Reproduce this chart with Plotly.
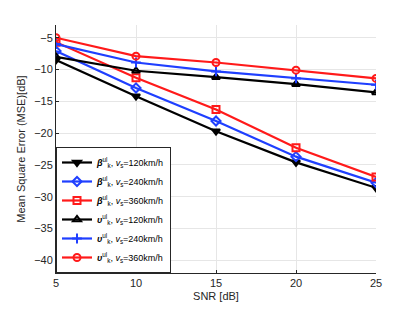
import plotly.graph_objects as go

snr = [5, 10, 15, 20, 25]
beta_120 = [-8.5, -14.2, -19.7, -24.6, -28.6]
beta_240 = [-7.1, -12.9, -18.1, -23.7, -27.8]
beta_360 = [-5.7, -11.3, -16.3, -22.3, -26.9]
ups_120 = [-8.0, -10.2, -11.2, -12.3, -13.6]
ups_240 = [-6.0, -8.9, -10.3, -11.4, -12.4]
ups_360 = [-5.0, -7.9, -8.9, -10.1, -11.4]

BLACK = "#000000"
BLUE = "#1f3fff"
RED = "#ff1a1a"

series = [
    (beta_120, "<b><i>β</i></b><sup>ul</sup><sub>k</sub>, <i>v</i><sub>s</sub>=120km/h", BLACK, "triangle-down"),
    (beta_240, "<b><i>β</i></b><sup>ul</sup><sub>k</sub>, <i>v</i><sub>s</sub>=240km/h", BLUE, "diamond-open"),
    (beta_360, "<b><i>β</i></b><sup>ul</sup><sub>k</sub>, <i>v</i><sub>s</sub>=360km/h", RED, "square-open"),
    (ups_120, "<b><i>υ</i></b><sup>ul</sup><sub>k</sub>, <i>v</i><sub>s</sub>=120km/h", BLACK, "triangle-up-open"),
    (ups_240, "<b><i>υ</i></b><sup>ul</sup><sub>k</sub>, <i>v</i><sub>s</sub>=240km/h", BLUE, "cross-thin-open"),
    (ups_360, "<b><i>υ</i></b><sup>ul</sup><sub>k</sub>, <i>v</i><sub>s</sub>=360km/h", RED, "circle-open"),
]

fig = go.Figure()
for vals, name, col, sym in series:
    fig.add_trace(go.Scatter(
        x=snr, y=vals, name=name, mode="lines+markers",
        line=dict(color=col, width=2.2),
        marker=dict(symbol=sym, size=7, color=col, line=dict(color=col, width=2)),
    ))

# page body has an 8px margin: figure is shifted, so size compensates
fig.update_layout(
    width=407, height=305,
    margin=dict(l=46, r=39, t=17, b=35),
    paper_bgcolor="white", plot_bgcolor="white",
    font=dict(family="Liberation Sans, Arial, sans-serif", size=11, color="#262626"),
    showlegend=True,
    legend=dict(x=0, y=0, xanchor="left", yanchor="bottom",
                bgcolor="white", bordercolor="#262626", borderwidth=1,
                font=dict(size=9, color="#000"), tracegroupgap=0,
                itemwidth=30),
)
fig.update_xaxes(range=[5, 25], tickvals=[5, 10, 15, 20, 25],
                 showgrid=True, gridcolor="#e6e6e6", gridwidth=1,
                 showline=True, linecolor="#262626", linewidth=1,
                 ticks="inside", ticklen=3, tickcolor="#262626",
                 zeroline=False,
                 title=dict(text="SNR [dB]", standoff=4, font=dict(size=11)))
fig.update_yaxes(range=[-42, -3], tickvals=[-5, -10, -15, -20, -25, -30, -35, -40],
                 showgrid=True, gridcolor="#e6e6e6", gridwidth=1,
                 showline=True, linecolor="#262626", linewidth=1,
                 ticks="inside", ticklen=3, tickcolor="#262626",
                 zeroline=False,
                 title=dict(text="Mean Square Error (MSE)[dB]", standoff=6, font=dict(size=11)))

fig.write_html("out.html")
